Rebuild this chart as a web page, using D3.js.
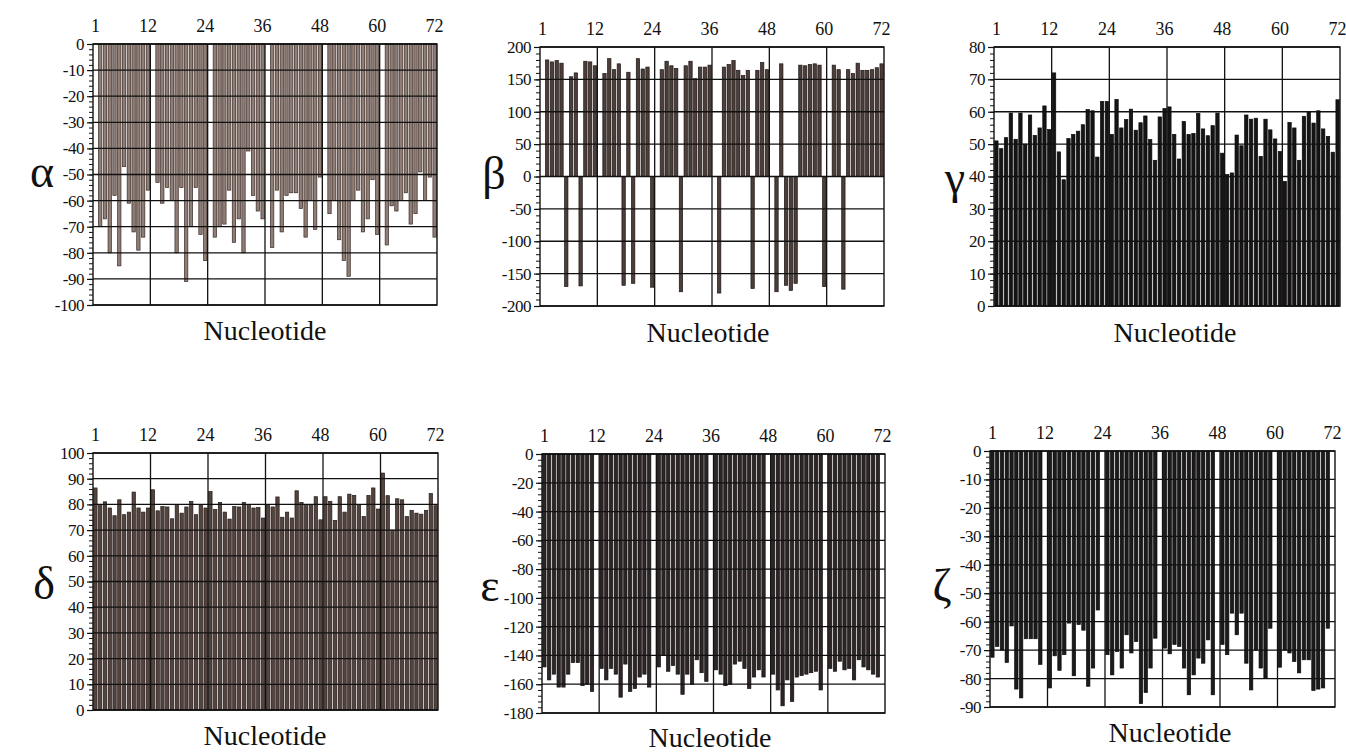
<!DOCTYPE html>
<html><head><meta charset="utf-8">
<script src="https://cdn.jsdelivr.net/npm/d3@7"></script>
<style>
html,body{margin:0;padding:0;background:#fff;}
text{font-family:"Liberation Serif","DejaVu Serif",serif;fill:#111;}
</style></head>
<body><svg id="c" width="1346" height="754"></svg>
<script>
const nucleotides = d3.range(1, 73);
const topTickLabels = [1, 12, 24, 36, 48, 60, 72];
const strandBoundaries = [12, 24, 36, 48, 60];
const xTitle = "Nucleotide";
const angleNames = ["α", "β", "γ", "δ", "ε", "ζ"];

const alpha = [null,-70,-67,-80,-58,-85,-47,-61,-72,-79,-74,-56,
 null,-53,-61,-55,-60,-80,-55,-91,-70,-55,-73,-83,
 null,-74,-70,-69,-56,-76,-67,-80,-41,-58,-64,-67,
 null,-78,-56,-72,-58,-57,-57,-63,-74,-60,-71,-51,
 null,-65,-60,-75,-83,-89,-60,-56,-72,-67,-52,-73,
 null,-77,-62,-64,-60,-57,-69,-65,-49,-60,-51,-74];
const beta = [null,180,177,179,175,-170,154,160,-169,178,177,171,
 null,159,182,165,174,-168,161,-165,182,166,169,-171,
 null,165,178,171,167,-178,171,178,151,169,169,172,
 null,-180,169,173,179,164,156,164,-173,164,176,165,
 null,-178,174,-168,-176,-165,172,171,173,174,172,-170,
 null,172,165,-174,165,159,175,164,164,165,168,174];
const gamma = [51,48.6,52,59.6,51.5,59.6,50,59,52.7,55,61.8,54.5,
 72,47.6,39,51.7,53,54,56,60.7,60.3,46,63.2,63.2,
 53,63.8,55,57.6,60.8,54.3,56.6,58.7,51.4,45,58.4,61,
 61.5,53,45.4,57,53,53.3,59.5,54.7,52.6,55.7,59.6,47.2,
 40.6,41.1,52.8,49.5,59,57.7,58,46.2,57.7,54.4,51.6,47.7,
 38.5,56.7,55,45,58.6,60,56.5,60.3,54.7,52.4,47.5,63.7];
const delta = [86.4,80,81,78.6,75.6,81.8,76,77,84.8,78.6,77,78.6,
 85.7,77.5,79.2,79,74.4,80,76.6,79,81.2,76,80,78.6,
 85,78,80.8,77,74.3,79.2,79,80.8,80,78.6,78.8,74.7,
 80,79,82.9,75,77,74.7,85.3,80.8,80,80,83,74,
 83,81.2,73.8,83,77,84,83.5,80,75.3,83.5,86.4,78.2,
 92.2,83.4,70,82.2,81.8,75.3,77.7,76.6,76.2,77.7,84.2,79.5];
const epsilon = [-148,-157,-153,-162,-162,-153,-145,-145,-161,-160,-165,null,
 -149,-157,-149,-153,-169,-146,-165,-163,-155,-153,-162,null,
 -148,-140,-151,-147,-153,-167,-153,-160,-143,-152,-158,null,
 -150,-153,-161,-160,-146,-144,-149,-163,-155,-150,-155,null,
 -153,-164,-175,-157,-172,-155,-154,-153,-152,-151,-164,null,
 -149,-151,-144,-150,-149,-157,-143,-148,-150,-153,-155,null];
const zeta = [-72.5,-68.7,-70,-74.3,-61.5,-83.7,-86.8,-66,-66,-66,-75,null,
 -83.3,-72,-77.1,-71.6,-60.5,-79,-61,-63,-82.7,-76.3,-55.9,null,
 -71.6,-78.7,-70.5,-76.3,-64.6,-71,-67,-88.8,-84.9,-76.3,-65.8,null,
 -69.3,-71.3,-68,-68.7,-76.3,-85.7,-78.7,-72.8,-74.6,-66.4,-85.7,null,
 -68,-71.6,-57,-64.6,-57,-74.6,-84,-70,-76.3,-79.8,-62.3,null,
 -76,-70,-71,-74,-78,-73.4,-73.4,-84.2,-83.7,-83.3,-62.3,null];

const yDomains = [[-100,0],[-200,200],[0,80],[0,100],[-180,0],[-90,0]];
const yMajor = [10,50,10,10,20,10];
const yMinor = [2,10,2,2,4,2];
const seriesList = [alpha, beta, gamma, delta, epsilon, zeta];

// layout (positions / styles)
const boxes = [
 {l:93,r:437,t:44,b:305, gx:42, gy:176, tx:265, ty:340, fill:"#8e7e75", stroke:"#3b2a27"},
 {l:540,r:884,t:47,b:306, gx:494, gy:178, tx:708, ty:342, fill:"#4c3e38", stroke:"#1c1414"},
 {l:994,r:1340,t:47,b:306, gx:955, gy:182, tx:1175, ty:342, fill:"#161414", stroke:"#0a0a0a"},
 {l:93,r:438,t:453,b:710, gx:44, gy:588, tx:265, ty:745, fill:"#54443e", stroke:"#241a18"},
 {l:542,r:885,t:454,b:713, gx:490, gy:590, tx:710, ty:747, fill:"#2e2626", stroke:"#120e0e"},
 {l:990,r:1335,t:451,b:707, gx:942, gy:590, tx:1170, ty:742, fill:"#1c1a1a", stroke:"#0a0a0a"}
];

const svg = d3.select("#c");

seriesList.forEach((vals, k) => {
  const B = boxes[k];
  const g = svg.append("g");
  const x = d3.scaleBand().domain(nucleotides).range([B.l, B.r]).paddingInner(0.3).paddingOuter(0.15);
  const xl = d3.scaleLinear().domain([0, 72]).range([B.l, B.r]);
  const y = d3.scaleLinear().domain(yDomains[k]).range([B.b, B.t]);
  const data = nucleotides.map((n, i) => ({n, v: vals[i]})).filter(d => d.v !== null);

  g.append("rect").attr("x", B.l).attr("y", B.t).attr("width", B.r - B.l).attr("height", B.b - B.t).attr("fill", "#fff");

  g.selectAll("rect.bar").data(data).join("rect").attr("class", "bar")
    .attr("x", d => x(d.n))
    .attr("width", x.bandwidth())
    .attr("y", d => Math.min(y(0), y(d.v)))
    .attr("height", d => Math.abs(y(d.v) - y(0)))
    .attr("fill", B.fill).attr("stroke", B.stroke).attr("stroke-width", 0.7);

  const dom = yDomains[k];
  const majors = d3.range(dom[0], dom[1] + 0.001, yMajor[k]);
  g.selectAll("line.hg").data(majors).join("line")
    .attr("x1", B.l).attr("x2", B.r).attr("y1", d => y(d)).attr("y2", d => y(d))
    .attr("stroke", "#111").attr("stroke-width", 1.3);
  g.selectAll("line.vg").data(strandBoundaries).join("line")
    .attr("x1", d => xl(d)).attr("x2", d => xl(d)).attr("y1", B.t).attr("y2", B.b)
    .attr("stroke", "#111").attr("stroke-width", 1.3);
  g.append("rect").attr("x", B.l).attr("y", B.t).attr("width", B.r - B.l).attr("height", B.b - B.t)
    .attr("fill", "none").attr("stroke", "#111").attr("stroke-width", 1.4);

  const yAxis = d3.axisLeft(y).tickValues(majors).tickSize(6).tickPadding(3).tickFormat(d => String(d));
  const ya = g.append("g").attr("transform", `translate(${B.l},0)`).call(yAxis);
  ya.select(".domain").remove();
  ya.selectAll("line").attr("stroke", "#111").attr("stroke-width", 1.2);
  ya.selectAll("text").style("font-family", "'Liberation Serif',serif").style("font-size", "17px")
    .style("letter-spacing", "-0.5px").attr("fill", "#111");
  const minors = d3.range(dom[0], dom[1] + 0.001, yMinor[k]);
  const ym = d3.axisLeft(y).tickValues(minors).tickSize(4).tickFormat("");
  const yma = g.append("g").attr("transform", `translate(${B.l},0)`).call(ym);
  yma.select(".domain").remove();
  yma.selectAll("line").attr("stroke", "#111").attr("stroke-width", 1);

  const xAxis = d3.axisTop(x).tickValues(topTickLabels).tickSize(0).tickPadding(12);
  const xa = g.append("g").attr("transform", `translate(0,${B.t})`).call(xAxis);
  xa.select(".domain").remove();
  xa.selectAll("text").style("font-family", "'Liberation Serif',serif").style("font-size", "18px").attr("fill", "#111");

  g.append("text").attr("x", B.gx).attr("y", B.gy).attr("text-anchor", "middle")
    .attr("dominant-baseline", "middle").style("font-size", "46px").text(angleNames[k]);
  g.append("text").attr("x", B.tx).attr("y", B.ty).attr("text-anchor", "middle")
    .style("font-size", "28px").text(xTitle);
});
</script></body></html>
